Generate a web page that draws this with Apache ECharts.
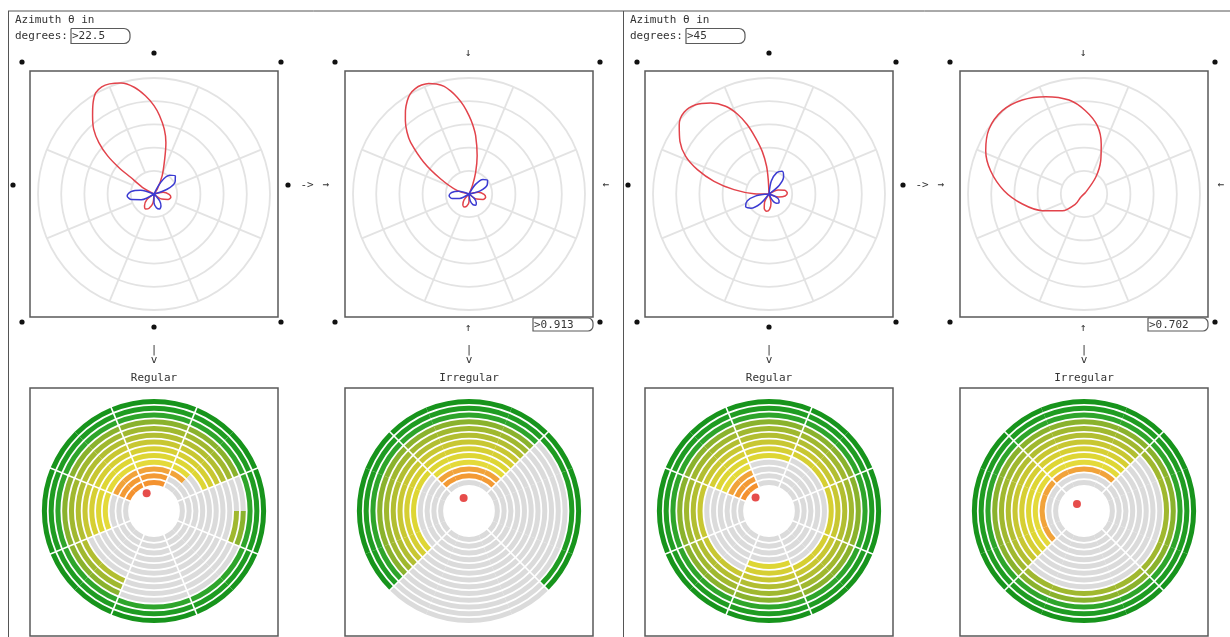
<!DOCTYPE html>
<html>
<head>
<meta charset="utf-8">
<script src="https://cdn.jsdelivr.net/npm/echarts/dist/echarts.min.js"></script>
<style>
html,body{margin:0;padding:0;background:#fff;}
#chart{width:1230px;height:637px;}
</style>
</head>
<body>
<div id="chart"></div>
<script>
// ---------- values ----------
const azimuthValues = ['22.5', '45'];
const scoreValues = ['0.913', '0.702'];
const mapTitles = ['Regular', 'Irregular'];
const headerLines = ['Azimuth θ in', 'degrees:'];

// polar traces: [radius (outer grid circle = 5), compass angle in degrees]
const p1Red = [
  [0,0],[0.26,34],[0.87,24],[1.58,17],[2.28,13],[2.83,9],[3.39,4],[3.81,0],[4.25,355],[4.68,349.5],[4.99,343.5],[5.12,338],[5.14,334],[5.03,330],[4.75,326.5],[4.3,322],[3.81,317],[3.25,313],[2.6,309.5],[1.9,307],[1.24,305.5],[0.58,300],[0,0],'-',
  [0,0],[0.4,79],[0.65,91],[0.74,101],[0.65,111],[0.4,123],[0,0],'-',
  [0,0],[0.4,187],[0.65,199],[0.74,209],[0.65,219],[0.4,231],[0,0]
];
const p1Blue = [
  [0,0],[0.6,30],[1.05,40],[1.2,50],[1.05,60],[0.6,70],[0,0],'-',
  [0,0],[0.38,140],[0.6,150],[0.69,160],[0.6,170],[0.38,180],[0,0],'-',
  [0,0],[0.6,246],[1.0,256],[1.16,266],[1.0,276],[0.6,286],[0,0]
];
const p2Red = [
  [0,0],[0.39,22],[0.98,17],[1.69,12],[2.53,6.5],[3.0,3],[3.38,0],[3.82,356.5],[4.2,353],[4.5,350],[4.76,347],[4.95,343.5],[5.07,340],[5.12,336.5],[5.1,333],[5.0,329.5],[4.82,326.5],[4.52,322.7],[4.18,319],[3.78,315],[3.36,311.5],[2.37,305],[1.38,298],[0.52,286],[0,0],'-',
  [0,0],[0.4,79],[0.65,91],[0.73,101],[0.65,111],[0.4,123],[0,0],'-',
  [0,0],[0.33,180],[0.53,190],[0.6,200],[0.53,210],[0.33,220],[0,0]
];
const p2Blue = [
  [0,0],[0.5,34],[0.87,44],[0.99,54],[0.87,64],[0.5,74],[0,0],'-',
  [0,0],[0.45,245],[0.75,255],[0.86,265],[0.75,275],[0.45,285],[0,0],'-',
  [0,0],[0.3,130],[0.49,140],[0.56,150],[0.49,160],[0.3,170],[0,0]
];
const p3Red = [
  [0,0],[0.62,357],[1.2,355],[1.86,351],[2.48,346.6],[3.13,342.6],[3.71,338.4],[4.22,333.7],[4.66,327.3],[4.98,320.6],[5.08,313.9],[4.89,307.7],[4.46,300.6],[3.94,294.3],[3.26,288.8],[2.43,283],[1.52,277.1],[0.65,271.3],[0,0],'-',
  [0,0],[0.43,67],[0.7,77],[0.79,87],[0.7,97],[0.43,107],[0,0],'-',
  [0,0],[0.41,168],[0.66,178],[0.75,188],[0.66,198],[0.41,208],[0,0]
];
const p3Blue = [
  [0,0],[0.57,10],[0.98,20],[1.13,30],[0.98,40],[0.57,50],[0,0],'-',
  [0,0],[0.57,222],[0.99,232],[1.14,242],[0.99,252],[0.57,262],[0,0],'-',
  [0,0],[0.32,112],[0.51,122],[0.58,132],[0.51,142],[0.32,152],[0,0]
];
const p4Red = [
  [0.1,45],[0.88,35],[1.61,26.6],[2.28,19],[3.0,11],[3.59,1],[4.1,351],[4.51,338.5],[4.85,326.7],[5.03,315.6],[4.96,304.4],[4.63,293.8],[4.15,284],[3.45,272.4],[2.69,260.8],[1.93,248.2],[1.18,232.4],[0.56,220],[0.2,225],[0.1,45]
];

// ring maps: 13 rings (outer -> inner), 16 sub-sectors of 22.5 deg starting at -22.5 deg (clockwise)
const ringNames = ['r1','r2','r3','r4','r5','r6','r7','r8','r9','r10','r11','r12','r13'];
const sectorSpanDeg = 22.5;
// number of coloured rings (counted from the outside) in each sub-sector; the rest are grey
const depthReg22 = [13,13,11,9,3,5,3,3,3,3,6,6,10,10,13,13];
const depthIrr22 = [12,12,12,2,2,2,2,0,0,0,0,9,9,9,9,12];
const depthReg45 = [9,9,8,8,8,8,8,8,9,9,7,7,7,7,13,13];
const depthIrr45 = [11,11,11,5,5,5,5,5,5,5,5,11,11,11,11,11];
// red position dot: [radius in % of map radius, compass angle]
const dotPositions = [[17,337.5],[12.4,337.5],[16.8,315],[8.8,315]];

// ---------- styling ----------
const ringColors = ['#17941c','#1f9c22','#2ea52b','#8ab22d','#a0b82f','#b2be31','#c8c732','#d6cf33','#ded634','#e4da3a','#f1a33a','#f39a34','#f4922f'];
const greyRing = '#dbdbdb';
const polarCenters = [[154,194],[469,194],[769,194],[1084,194]];
const ringCenters = [[154,511],[469,511],[769,511],[1084,511]];
const plotReds = [p1Red, p2Red, p3Red, p4Red];
const plotBlues = [p1Blue, p2Blue, p3Blue, null];
const ringDepths = [depthReg22, depthIrr22, depthReg45, depthIrr45];
const dividerStep = [45, 90, 45, 90];
const dividerStart = [112.5, 135, 112.5, 135];
const UNIT = 23.2; // px per radius unit

const polar = [], angleAxis = [], radiusAxis = [], series = [];
const hidden = {axisLine:{show:false}, axisTick:{show:false}, axisLabel:{show:false}, splitLine:{show:false}, splitArea:{show:false}};
function addPolar(center, radius, ang, rad) {
  polar.push({center: center, radius: radius});
  const idx = polar.length - 1;
  angleAxis.push(Object.assign({polarIndex: idx}, hidden, ang));
  radiusAxis.push(Object.assign({polarIndex: idx}, hidden, rad));
  return idx;
}
const gridLine = {show:true, lineStyle:{color:'#e3e3e3', width:1.8}};

for (let i = 0; i < 4; i++) {
  // background grid
  addPolar(polarCenters[i], [UNIT, UNIT * 5],
    {type:'value', min:0, max:360, interval:45, startAngle:112.5, splitLine:gridLine},
    {type:'value', min:0, max:4, interval:1, splitLine:gridLine});
  // traces (axis range a bit larger than the grid so nothing is clamped)
  const pi = addPolar(polarCenters[i], [0, UNIT * 6],
    {type:'value', min:0, max:360, startAngle:90},
    {type:'value', min:0, max:6});
  series.push({type:'line', coordinateSystem:'polar', polarIndex:pi, data:plotReds[i], smooth:0.3, clip:false,
    symbol:'none', connectNulls:false, lineStyle:{color:'#e2434b', width:1.5}, z:5});
  if (plotBlues[i]) {
    series.push({type:'line', coordinateSystem:'polar', polarIndex:pi, data:plotBlues[i], smooth:0.3, clip:false,
      symbol:'none', connectNulls:false, lineStyle:{color:'#3b3bd2', width:1.5}, z:6});
  }
  // ring map
  const ri = addPolar(ringCenters[i], [25, 113],
    {type:'value', min:0, max:360, startAngle:112.5},
    {type:'category', data:ringNames, inverse:true});
  ringDepths[i].forEach(function (d) {
    series.push({type:'bar', coordinateSystem:'polar', polarIndex:ri, stack:'ring' + i, barCategoryGap:'26%',
      data: ringNames.map(function (n, k) { return {value: sectorSpanDeg, itemStyle:{color: k < d ? ringColors[k] : greyRing}}; })});
  });
  // white sector dividers
  addPolar(ringCenters[i], [25, 113.5],
    {type:'value', min:0, max:360, interval:dividerStep[i], startAngle:dividerStart[i], z:10,
     splitLine:{show:true, lineStyle:{color:'#ffffff', width:1.6}}},
    {type:'value', min:0, max:1});
  // red position dot
  const di = addPolar(ringCenters[i], [0, 113],
    {type:'value', min:0, max:360, startAngle:90},
    {type:'value', min:0, max:100});
  series.push({type:'scatter', coordinateSystem:'polar', polarIndex:di, data:[dotPositions[i]],
    symbolSize:8, itemStyle:{color:'#e0201e'}, z:20});
}

// ---------- decorations ----------
const g = [];
const FONT = '11px "DejaVu Sans Mono", monospace';
function T(x, y, s, align) { g.push({type:'text', x:x, y:y, z:100, style:{text:s, font:FONT, fill:'#333', align:align || 'left', verticalAlign:'middle'}}); }
function L(x1, y1, x2, y2, c, w) { g.push({type:'line', z:90, shape:{x1:x1, y1:y1, x2:x2, y2:y2}, style:{stroke:c || '#555', lineWidth:w || 1}}); }
function R(x, y, w, h, r, lw) { g.push({type:'rect', z:90, shape:{x:x, y:y, width:w, height:h, r:r || 0}, style:{fill:null, stroke:'#5a5a5a', lineWidth:lw || 1.5}}); }
function D(x, y) { g.push({type:'circle', z:95, shape:{cx:x, cy:y, r:2.6}, style:{fill:'#111'}}); }

L(8, 11, 1230, 11, '#555', 1);
L(8.5, 11, 8.5, 637, '#555', 1);
L(623.5, 11, 623.5, 637, '#555', 1);

[0, 615].forEach(function (ox, h) {
  const c1 = 154 + ox, c2 = 469 + ox;
  T(15 + ox, 20, headerLines[0]);
  T(15 + ox, 36, headerLines[1]);
  R(71 + ox, 28.5, 59, 15, [0, 6, 6, 0], 1.2);
  T(72 + ox, 36.5, '>' + azimuthValues[h]);
  // polar plot frames
  R(30 + ox, 71, 248, 246);
  R(345 + ox, 71, 248, 246);
  // ring map frames
  R(30 + ox, 388, 248, 248);
  R(345 + ox, 388, 248, 248);
  // handles of the first plot
  D(c1 - 132, 62); D(c1, 53); D(c1 + 127, 62);
  D(c1 - 141, 185); D(c1 + 134, 185);
  D(c1 - 132, 322); D(c1, 327); D(c1 + 127, 322);
  // handles of the second plot
  D(c2 - 134, 62); D(c2 + 131, 62); D(c2 - 134, 322); D(c2 + 131, 322);
  T(c2 - 1, 53, '↓', 'center');
  T(c2 - 1, 328, '↑', 'center');
  T(c2 + 137, 185, '←', 'center');
  T(307 + ox, 185, '->', 'center');
  T(326 + ox, 185, '→', 'center');
  // score box
  R(533 + ox, 318, 60, 13, [0, 5, 5, 0], 1.2);
  T(534 + ox, 325, '>' + scoreValues[h]);
  // arrows down to the ring maps
  T(c1, 350, '|', 'center'); T(c1, 360, 'v', 'center');
  T(c2, 350, '|', 'center'); T(c2, 360, 'v', 'center');
  T(c1, 378, mapTitles[0], 'center');
  T(c2, 378, mapTitles[1], 'center');
});

const chart = echarts.init(document.getElementById('chart'), null, {renderer:'canvas', width:1230, height:637});
chart.setOption({
  backgroundColor:'#ffffff',
  animation:false,
  tooltip:{show:false},
  polar: polar,
  angleAxis: angleAxis,
  radiusAxis: radiusAxis,
  series: series,
  graphic: {elements: g}
});
</script>
</body>
</html>
